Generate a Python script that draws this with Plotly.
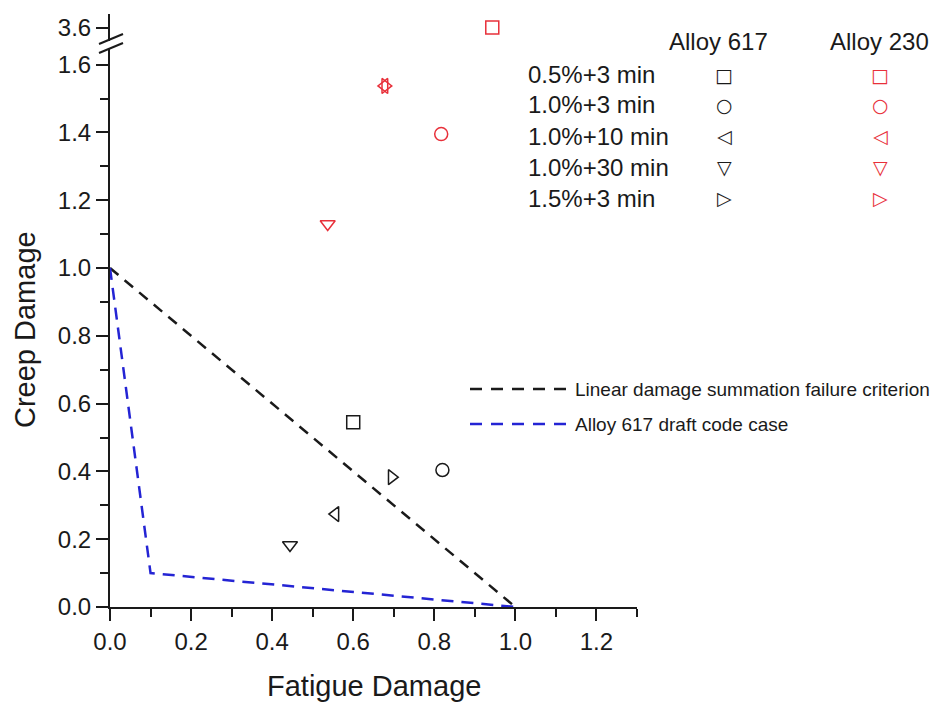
"""Creep-fatigue damage diagram for Alloy 617 and Alloy 230."""

import plotly.graph_objects as go

# hold conditions (strain range + hold time)
conditions = ["0.5%+3 min", "1.0%+3 min", "1.0%+10 min", "1.0%+30 min", "1.5%+3 min"]
symbols = ["square-open", "circle-open", "triangle-left-open", "triangle-down-open", "triangle-right-open"]
glyphs = ["\u25a1", "\u25cb", "\u25c1", "\u25bd", "\u25b7"]

# Alloy 617 (fatigue damage, creep damage)
a617_fatigue = [0.60, 0.82, 0.556, 0.444, 0.695]
a617_creep = [0.545, 0.404, 0.274, 0.183, 0.383]

# Alloy 230 - the 0.5%+3 min point sits above the axis break
a230_fatigue = [0.943, 0.817, 0.677, 0.537, 0.679]
a230_creep = [3.6, 1.395, 1.537, 1.13, 1.537]

# failure envelopes
linear_x = [0.0, 1.0]
linear_y = [1.0, 0.0]
draft_x = [0.0, 0.1, 1.0]
draft_y = [1.0, 0.1, 0.0]

x_ticks = [0, 0.2, 0.4, 0.6, 0.8, 1.0, 1.2]
y_ticks = [0, 0.2, 0.4, 0.6, 0.8, 1.0, 1.2, 1.4, 1.6]

BLACK = "#1a1a1a"
RED = "#e8303a"
BLUE = "#2424d4"
FONT = "Liberation Sans, Arial, sans-serif"

# page has an 8px body margin, so screen = figure + 8
W, H = 940, 697
PLOT_L, PLOT_R, PLOT_T, PLOT_B = 110, 637, 14, 607  # screen pixels
L, R = PLOT_L - 8, W - (PLOT_R - 8)
T, B = PLOT_T - 8, H - (PLOT_B - 8)


def sx(x):
    return (x - PLOT_L) / (PLOT_R - PLOT_L)


def sy(y):
    return (PLOT_B - y) / (PLOT_B - PLOT_T)


def note(x, y, text, size, color=BLACK, xanchor="center", family=FONT, **kw):
    fig.add_annotation(x=sx(x), y=sy(y), xref="paper", yref="paper", text=text,
                       xanchor=xanchor, yanchor="middle", showarrow=False,
                       font=dict(family=family, size=size, color=color), **kw)


fig = go.Figure()

fig.add_trace(go.Scatter(x=linear_x, y=linear_y, mode="lines",
                         line=dict(color=BLACK, width=2.5, dash="11px,8px"), showlegend=False))
fig.add_trace(go.Scatter(x=draft_x, y=draft_y, mode="lines",
                         line=dict(color=BLUE, width=2.5, dash="12px,8px"), showlegend=False))

for i, sym in enumerate(symbols):
    fig.add_trace(go.Scatter(
        x=[a617_fatigue[i]], y=[a617_creep[i]], mode="markers",
        marker=dict(symbol=sym, size=13, color=BLACK, line=dict(width=1.5)),
        showlegend=False))
    on_top = a230_creep[i] > 2
    fig.add_trace(go.Scatter(
        x=[a230_fatigue[i]], y=[a230_creep[i]], mode="markers",
        yaxis="y2" if on_top else "y",
        marker=dict(symbol=sym, size=13, color=RED, line=dict(width=1.5)),
        showlegend=False))

axis_common = dict(
    showline=True, linecolor=BLACK, linewidth=2, ticks="outside", ticklen=12,
    tickwidth=2, tickcolor=BLACK, showgrid=False, zeroline=False,
    tickfont=dict(family=FONT, size=24, color=BLACK),
)
minor_common = dict(ticklen=8, tickwidth=2, tickcolor=BLACK, ticks="outside")

fig.update_layout(
    width=W, height=H,
    margin=dict(l=L, r=R, t=T, b=B),
    paper_bgcolor="white", plot_bgcolor="white",
    font=dict(family=FONT, color=BLACK),
    xaxis=dict(
        **axis_common, range=[0, 1.3], tickvals=x_ticks, tickformat=".1f",
        minor=dict(tickvals=[0.1, 0.3, 0.5, 0.7, 0.9, 1.1, 1.3], **minor_common),
    ),
    yaxis=dict(
        **axis_common, range=[0, (PLOT_B - 49) / 339], domain=[0, sy(49)],
        tickvals=y_ticks, tickformat=".1f",
        minor=dict(tickvals=[0.1, 0.3, 0.5, 0.7, 0.9, 1.1, 1.3, 1.5], **minor_common),
    ),
    yaxis2=dict(
        **axis_common, anchor="x", domain=[sy(41), 1], range=[3.56, 3.64],
        tickvals=[3.6], tickformat=".1f",
    ),
)

# axis titles
note(374, 686, "Fatigue Damage", 29)
note(25, 330, "Creep Damage", 29, textangle=-90)

# axis break marks
for y0 in (44, 53):
    fig.add_shape(type="line", xref="paper", yref="paper",
                  x0=sx(99), y0=sy(y0), x1=sx(123), y1=sy(y0 - 10),
                  line=dict(color=BLACK, width=2))

# symbol table
note(718, 42, "Alloy 617", 24)
note(879, 42, "Alloy 230", 24)
rows_y = [75, 105, 136, 167, 198]
for i, cond in enumerate(conditions):
    note(526, rows_y[i], cond, 24, xanchor="left")
    note(724, rows_y[i], glyphs[i], 19, family="DejaVu Sans")
    note(880, rows_y[i], glyphs[i], 19, color=RED, family="DejaVu Sans")

# line key
line_key = [("Linear damage summation failure criterion", BLACK, 389),
            ("Alloy 617 draft code case", BLUE, 424)]
for label, color, yk in line_key:
    fig.add_shape(type="line", xref="paper", yref="paper",
                  x0=sx(470), y0=sy(yk), x1=sx(566), y1=sy(yk),
                  line=dict(color=color, width=2.5, dash="12px,9px"))
    note(573, yk, label, 19, xanchor="left")

fig.write_html("out.html")
